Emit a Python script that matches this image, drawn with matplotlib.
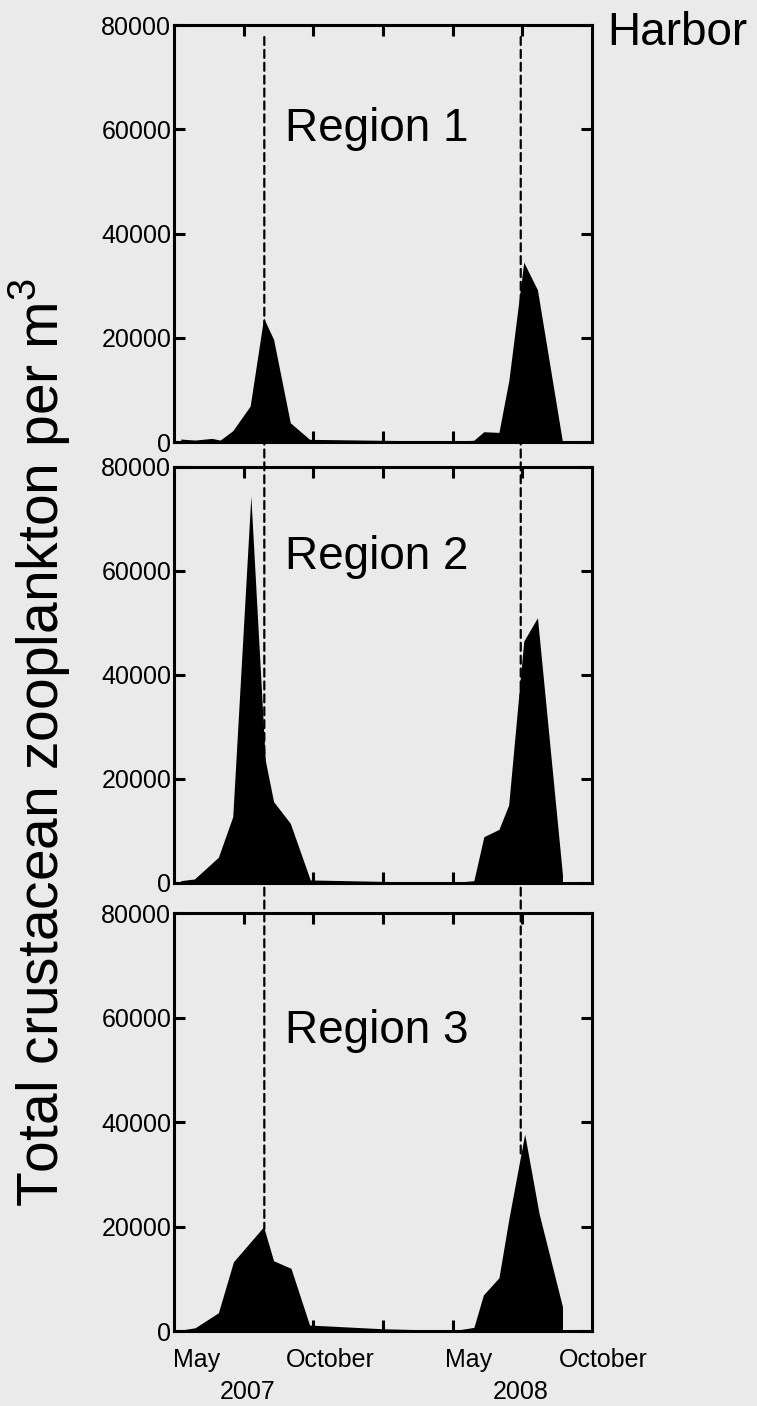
import numpy as np
import matplotlib
matplotlib.use("Agg")
import matplotlib.pyplot as plt
from matplotlib.patches import ConnectionPatch

plt.rcParams["font.family"] = ["Liberation Sans", "DejaVu Sans"]
plt.rcParams["mathtext.fontset"] = "custom"
plt.rcParams["mathtext.rm"] = "Liberation Sans"

BG = "#EAEAEA"

# months since 1 May 2007
region1_x = [0.29, 0.91, 1.63, 1.99, 2.53, 3.28, 3.86, 4.29, 5.01, 5.84, 9.0, 12.2,
             12.92, 13.35, 14.0, 14.43, 15.07, 15.66, 16.74]
region1_y = [575, 380, 700, 380, 2170, 6900, 23800, 19700, 3700, 520, 330, 150,
             350, 1980, 1850, 11900, 34500, 29200, 0]

region2_x = [0.29, 0.88, 1.91, 2.53, 3.31, 3.93, 4.29, 5.01, 5.87, 9.0, 12.2,
             12.92, 13.35, 14.0, 14.42, 15.07, 15.66, 16.74]
region2_y = [440, 770, 4940, 12750, 74400, 23650, 15630, 11480, 580, 300, 150,
             440, 8900, 10300, 15000, 46500, 51000, 1500]

region3_x = [0.09, 0.91, 1.91, 2.56, 3.86, 4.29, 5.04, 5.84, 9.0, 11.34, 12.2,
             12.92, 13.33, 14.0, 14.43, 15.11, 15.73, 16.74]
region3_y = [60, 630, 3500, 13260, 19960, 13460, 12000, 1150, 440, 190, 190,
             700, 6900, 10200, 21500, 37700, 22500, 4650]

region_names = ["Region 1", "Region 2", "Region 3"]
event_x = [3.89, 14.94]          # dashed markers
yticks = [0, 20000, 40000, 60000, 80000]
xticks = [3, 6, 9, 12, 15]
month_labels = [(0.99, "May"), (6.73, "October"), (12.69, "May"), (18.48, "October")]
year_labels = [(3.19, "2007"), (14.94, "2008")]

series = [(region1_x, region1_y), (region2_x, region2_y), (region3_x, region3_y)]

fig = plt.figure(figsize=(7.57, 14.06), dpi=100, facecolor=BG)

# axes boxes in figure fractions (left, bottom, width, height)
boxes = [(0.2299, 0.6856, 0.5518, 0.2966),
         (0.2299, 0.3720, 0.5518, 0.2959),
         (0.2299, 0.0533, 0.5518, 0.2973)]
label_y = [0.722, 0.755, 0.689]

axes = []
for i, (box, (xs, ys)) in enumerate(zip(boxes, series)):
    ax = fig.add_axes(box, facecolor=BG)
    ax.fill_between(xs, ys, 0, color="black", lw=0, zorder=2)
    ax.set_xlim(0, 18)
    ax.set_ylim(0, 80000)
    ax.set_yticks(yticks)
    ax.set_yticklabels([str(v) for v in yticks])
    ax.set_xticks(xticks)
    ax.set_xticklabels([])
    ax.tick_params(axis="both", direction="in", width=2.2, length=8,
                   top=True, right=True, labelsize=18, pad=2, zorder=1)
    for sp in ax.spines.values():
        sp.set_linewidth(2.2)
        sp.set_zorder(5)
    ax.text(0.266, label_y[i], region_names[i], transform=ax.transAxes,
            fontsize=33, ha="left", va="baseline")
    axes.append(ax)

ax3 = axes[2]
for xv, lab in month_labels:
    ax3.text(xv, -0.07, lab, transform=ax3.get_xaxis_transform(),
             fontsize=18, ha="center", va="center")
for xv, lab in year_labels:
    ax3.text(xv, -0.146, lab, transform=ax3.get_xaxis_transform(),
             fontsize=18, ha="center", va="center")

# dashed lines through all three panels
for xv in event_x:
    y_end = np.interp(xv, region3_x, region3_y)
    con = ConnectionPatch(xyA=(xv, 77700), coordsA=axes[0].transData,
                          xyB=(xv, y_end), coordsB=ax3.transData,
                          color="black", lw=1.6, linestyle=(0, (3.6, 2.2)),
                          zorder=1)
    fig.add_artist(con)

fig.text(0.802, 0.968, "Harbor", fontsize=33, ha="left", va="baseline")
fig.text(0.053, 0.472, "Total crustacean zooplankton per m$^{3}$", fontsize=41,
         rotation=90, ha="center", va="center")

fig.savefig("out.png", dpi=100, facecolor=BG)
